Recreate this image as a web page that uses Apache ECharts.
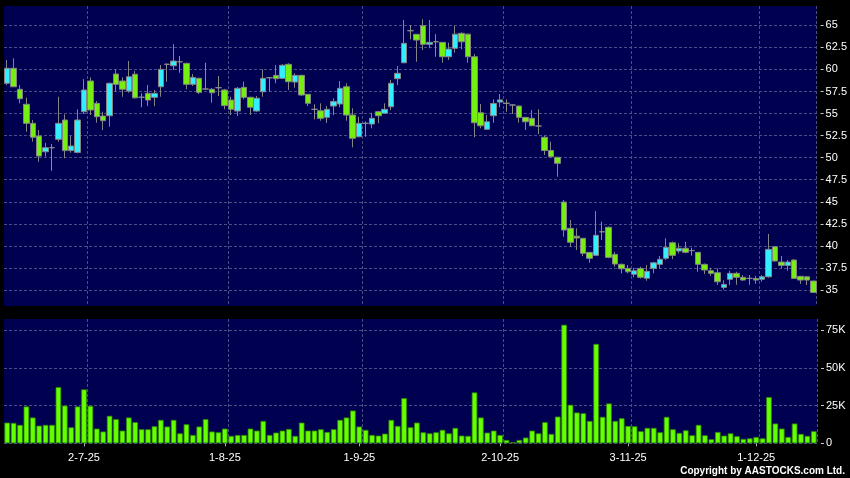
<!DOCTYPE html>
<html>
<head>
<meta charset="utf-8">
<script src="https://cdn.jsdelivr.net/npm/echarts@6/dist/echarts.min.js"></script>
<style>
html,body{margin:0;padding:0;background:#000;}
#chart{width:850px;height:478px;}
</style>
</head>
<body>
<div id="chart"></div>
<script>
const dates = [
'13-6-25','16-6-25','17-6-25','18-6-25','19-6-25','20-6-25','23-6-25','24-6-25','25-6-25','26-6-25','27-6-25','30-6-25',
'2-7-25','3-7-25','4-7-25','7-7-25','8-7-25','9-7-25','10-7-25','11-7-25','14-7-25','15-7-25','16-7-25','17-7-25','18-7-25','21-7-25','22-7-25','23-7-25','24-7-25','25-7-25','28-7-25','29-7-25','30-7-25','31-7-25',
'1-8-25','4-8-25','5-8-25','6-8-25','7-8-25','8-8-25','11-8-25','12-8-25','13-8-25','14-8-25','15-8-25','18-8-25','19-8-25','20-8-25','21-8-25','22-8-25','25-8-25','26-8-25','27-8-25','28-8-25','29-8-25',
'1-9-25','2-9-25','3-9-25','4-9-25','5-9-25','8-9-25','9-9-25','10-9-25','11-9-25','12-9-25','15-9-25','16-9-25','17-9-25','18-9-25','19-9-25','22-9-25','23-9-25','24-9-25','25-9-25','26-9-25','29-9-25','30-9-25',
'2-10-25','3-10-25','6-10-25','8-10-25','9-10-25','10-10-25','13-10-25','14-10-25','15-10-25','16-10-25','17-10-25','20-10-25','21-10-25','22-10-25','23-10-25','24-10-25','27-10-25','28-10-25','30-10-25','31-10-25',
'3-11-25','4-11-25','5-11-25','6-11-25','7-11-25','10-11-25','11-11-25','12-11-25','13-11-25','14-11-25','17-11-25','18-11-25','19-11-25','20-11-25','21-11-25','24-11-25','25-11-25','26-11-25','27-11-25','28-11-25',
'1-12-25','2-12-25','3-12-25','4-12-25','5-12-25','8-12-25','9-12-25','10-12-25','11-12-25','12-12-25'
];

const opens = [
58.43,60.13,57.75,56.05,53.89,52.45,50.67,51.13,52.08,54.27,50.8,50.6,55.21,58.69,56.16,54.72,54.75,59.48,58.69,57.55,
59.45,56.85,57.29,56.84,58.04,60.58,60.42,60.87,60.69,58.31,58.99,57.78,57.75,57.93,57.67,56.53,55.29,57.97,56.84,55.29,
57.47,59.06,59.33,58.99,60.58,58.57,59.33,57.18,55.48,55.32,54.57,55.85,56.08,58.04,54.83,52.37,53.89,53.81,55.21,55.03,
55.77,58.95,60.76,64.39,63.98,64.95,62.85,63.14,63.07,61.44,62.39,64.09,64.0,61.44,55.09,53.21,54.75,56.3,56.16,55.97,
55.85,54.57,54.46,53.59,52.31,50.81,50.04,44.97,41.99,41.1,40.86,39.27,38.93,41.6,42.11,39.04,37.91,37.45,36.78,37.45,
36.33,37.45,37.91,38.59,40.36,39.42,39.73,39.47,39.27,37.91,37.19,36.96,35.3,36.21,36.89,36.44,36.32,36.3,36.21,36.5,
39.91,38.17,37.79,38.4,36.55,36.5,36.02
];
const closes = [
60.13,58.04,56.68,53.89,52.31,50.19,51.13,51.13,53.89,50.8,51.32,54.27,57.67,55.4,54.64,54.19,58.43,58.31,57.75,59.17,
56.78,56.85,56.53,57.29,60.01,60.58,60.95,60.87,58.31,59.1,57.4,57.78,57.36,57.93,55.9,55.48,57.86,56.84,55.71,56.73,
58.99,59.06,58.95,60.47,58.61,59.33,57.1,56.16,55.48,54.46,55.48,56.37,57.86,54.83,52.19,53.89,53.89,54.46,54.75,55.48,
58.43,59.56,62.96,64.39,63.33,62.85,63.07,63.14,61.44,62.31,64.0,63.14,61.44,53.96,53.62,54.07,56.14,56.55,56.16,55.97,
54.57,54.07,53.62,53.59,50.81,50.11,49.36,41.8,40.41,40.9,39.16,38.59,41.2,41.6,38.7,37.95,37.41,37.07,37.19,36.44,
37.12,38.09,38.48,39.84,38.93,39.73,39.27,39.47,37.91,37.27,36.89,35.94,35.64,36.89,36.44,36.13,36.32,36.13,36.5,39.61,
38.29,37.79,38.17,36.32,36.13,36.13,34.73
];
const lows = [
58.23,58.0,56.16,52.94,51.81,49.54,50.11,48.52,51.81,49.93,50.56,50.5,54.95,54.83,53.96,53.13,53.51,57.47,56.91,57.36,
56.7,55.71,55.85,55.85,56.91,58.61,59.93,59.63,57.75,58.12,57.22,57.7,56.23,56.99,55.48,54.83,54.72,56.61,54.83,55.2,
56.91,57.47,58.43,58.9,57.67,57.93,57.0,55.85,54.35,54.19,53.94,54.83,55.71,54.19,51.17,52.3,52.37,53.33,53.89,55.0,
55.4,58.23,60.7,63.41,60.87,62.2,62.4,61.44,60.76,61.07,61.9,62.28,60.76,52.31,53.33,53.2,53.96,55.71,55.21,54.95,
53.96,53.13,53.6,52.68,50.3,50.0,47.84,41.04,39.91,39.53,38.85,38.09,38.9,40.67,38.6,37.64,36.89,36.89,36.44,36.3,
36.05,36.9,37.45,38.4,38.5,39.16,39.16,38.9,37.07,36.81,36.6,35.57,35.04,35.57,35.6,36.05,35.6,35.7,35.95,36.4,
38.2,37.45,37.19,36.3,35.7,35.57,34.7
];
const highs = [
61.07,61.26,58.23,56.8,54.27,53.13,51.69,51.55,56.91,54.91,52.45,55.48,58.91,59.1,56.42,55.21,58.5,60.01,59.1,60.95,
59.82,57.29,58.23,57.67,60.5,60.69,62.88,61.52,60.75,59.48,59.05,60.76,57.9,59.25,57.8,56.91,58.0,58.61,56.9,56.99,
60.01,59.1,60.5,60.6,60.7,59.56,59.4,57.2,56.05,56.16,55.85,56.73,58.69,58.43,55.6,54.64,54.1,55.09,55.3,56.16,
58.8,60.39,65.6,65.03,64.0,65.68,65.6,64.0,63.1,63.03,64.95,64.2,64.05,61.75,56.08,54.83,56.61,57.22,56.6,56.0,
55.9,54.6,55.4,55.48,52.51,51.81,50.1,45.2,42.93,41.99,40.9,39.3,43.95,42.74,42.2,39.34,38.0,37.83,37.5,37.64,
37.83,38.2,38.85,40.86,40.5,40.29,40.47,39.8,39.3,38.0,37.5,37.45,36.1,37.19,37.07,36.7,36.7,36.6,36.7,41.35,
40.0,38.85,38.4,38.5,36.6,36.6,36.05
];
const volumes = [
13700,13500,12200,24400,17100,11700,12200,12200,37200,25000,10600,24400,35700,24800,9750,7800,18200,16000,8400,17100,
14000,9300,9300,11300,15500,11100,15500,6600,12600,5500,11100,16000,7800,7300,9750,4900,5500,5500,9750,8400,
14800,5500,7100,8400,9500,4900,13700,8400,8400,9300,7500,9300,15500,17100,21700,11100,8900,5500,5100,6400,
15500,11500,29900,10600,13700,7300,6600,7300,8900,6600,10200,5100,4900,33700,17100,7100,8400,5500,2200,700,
2200,3800,8400,6600,14000,6200,17700,78500,25500,20400,19900,14800,65800,17500,26400,14800,16600,11500,11300,8000,
10200,10200,7300,17500,9300,6900,8600,5300,12200,5300,2700,7500,5100,6600,4700,2900,3300,4200,3300,30600,
13100,9750,4200,13100,6200,4900,8000
];
const xLabelDates = ['2-7-25','1-8-25','1-9-25','2-10-25','3-11-25','1-12-25'];
const priceTicks = [35,37.5,40,42.5,45,47.5,50,52.5,55,57.5,60,62.5,65];
const volumeTicks = [0,25000,50000,75000];

const candleData = dates.map((d, i) => [opens[i], closes[i], lows[i], highs[i]]);
const labelIdx = xLabelDates.map(d => dates.indexOf(d));
const splitIdx = labelIdx.map(i => i + 1);
const isLabel = (index) => labelIdx.indexOf(index) >= 0;
const isSplit = (index) => splitIdx.indexOf(index) >= 0;

const gridLine = {color: '#4c4c86', width: 1, type: [3, 2]};
const FONT = 'Liberation Sans, Arial, sans-serif';

const chart = echarts.init(document.getElementById('chart'), null, {renderer: 'canvas'});
chart.setOption({
  backgroundColor: '#000000',
  animation: false,
  grid: [
    {left: 4, top: 6, width: 813, height: 300, show: true, backgroundColor: '#000050', borderWidth: 0},
    {left: 4, top: 319, width: 813, height: 124.3, show: true, backgroundColor: '#000050', borderWidth: 0}
  ],
  xAxis: [
    {type: 'category', gridIndex: 0, data: dates, boundaryGap: true,
     axisLine: {show: false}, axisTick: {show: false}, axisLabel: {show: false},
     splitLine: {show: true, interval: isSplit, lineStyle: gridLine}},
    {type: 'category', gridIndex: 1, data: dates, boundaryGap: true, offset: 3,
     axisLine: {show: false},
     axisTick: {show: true, interval: isLabel, alignWithLabel: true, length: 3, lineStyle: {color: '#b0b0b0'}},
     axisLabel: {show: true, interval: isLabel, color: '#ffffff', fontSize: 11, fontFamily: FONT, margin: 6},
     splitLine: {show: true, interval: isSplit, lineStyle: gridLine}}
  ],
  yAxis: [
    {type: 'value', gridIndex: 0, position: 'right', min: 33.19, max: 67.19, offset: 4,
     axisLine: {show: false},
     axisTick: {show: true, length: 3, customValues: priceTicks, lineStyle: {color: '#c8c8c8'}},
     axisLabel: {show: true, customValues: priceTicks, color: '#ffffff', fontSize: 11, fontFamily: FONT, margin: 5},
     splitLine: {show: true, lineStyle: gridLine}},
    {type: 'value', gridIndex: 1, position: 'right', min: 0, max: 82300, offset: 4,
     axisLine: {show: false},
     axisTick: {show: true, length: 3, customValues: volumeTicks, lineStyle: {color: '#c8c8c8'}},
     axisLabel: {show: true, customValues: volumeTicks, color: '#ffffff', fontSize: 11, fontFamily: FONT, margin: 5,
       formatter: v => v === 0 ? '0' : (v / 1000) + 'K'},
     splitLine: {show: true, lineStyle: gridLine}}
  ],
  series: [
    {type: 'candlestick', xAxisIndex: 0, yAxisIndex: 0, data: candleData, barWidth: 6,
     itemStyle: {color: '#33eeff', color0: '#77ee11', borderColor: '#858585', borderColor0: '#858585',
       borderColorDoji: '#8c8c8c', borderWidth: 1}},
    {type: 'bar', xAxisIndex: 1, yAxisIndex: 1, data: volumes, barWidth: 5.6,
     itemStyle: {color: '#66ff00', borderColor: '#2f8a00', borderWidth: 0.8}}
  ],
  graphic: [
    {type: 'text', right: 5, top: 466, style: {text: 'Copyright by AASTOCKS.com Ltd.', fill: '#ffffff',
      font: 'bold 10px ' + FONT}}
  ]
});
</script>
</body>
</html>
